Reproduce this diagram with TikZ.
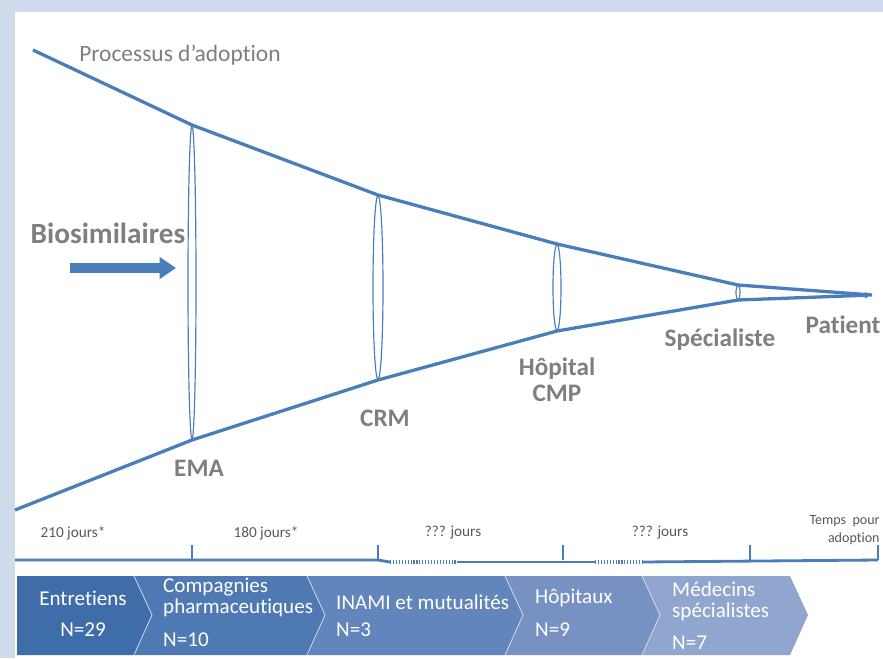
\documentclass[tikz,border=0pt]{standalone}
\usepackage{fontspec}
\setmainfont{Carlito}[Ligatures = NoCommon]
\usetikzlibrary{calc,arrows.meta}

\definecolor{funnelblue}{HTML}{4A7EBB}
\definecolor{framegray}{HTML}{CFDBEA}
\definecolor{labelgray}{HTML}{7F7F7F}
\definecolor{spangray}{HTML}{595959}
\definecolor{chevA}{HTML}{3F6DAA}
\definecolor{chevB}{HTML}{4E79B3}
\definecolor{chevC}{HTML}{6285BB}
\definecolor{chevD}{HTML}{7891C3}
\definecolor{chevE}{HTML}{91A6CE}

\tikzset{
	funnel/.style = {funnelblue, line width = 2.8pt},
	lens/.style = {funnelblue, line width = 1pt},
	stage/.style = {text = labelgray, font = \fontsize{21.5}{22}\selectfont\bfseries, align = center},
	span/.style = {text = spangray, font = \fontsize{13}{14}\selectfont, align = right},
	chevtext/.style = {text = white, font = \fontsize{18}{18}\selectfont, align = left, inner sep = 0pt},
	chevedge/.style = {draw = white!80!chevA, line width = 0.6pt},
}

\begin{document}
\begin{tikzpicture}[x = 0.03cm, y = -0.03cm]
				%	frame
				\fill[framegray] (0, 0) rectangle (883, 658);
				\fill[white] (15, 12) rectangle (883, 658);
				\useasboundingbox (0, 0) rectangle (883, 658);
				
				%	funnel points
				\coordinate (t0) at (33, 50);
				\coordinate (t1) at (192, 125);
				\coordinate (t2) at (378, 195);
				\coordinate (t3) at (557, 244);
				\coordinate (t4) at (738, 285);
				\coordinate (b0) at (15, 510);
				\coordinate (b1) at (192, 440);
				\coordinate (b2) at (378, 380);
				\coordinate (b3) at (557, 331);
				\coordinate (b4) at (738, 300);
				\coordinate (tip) at (872, 295);
				
				%	lenses
				\draw[lens] ($(t1)!0.5!(b1)$) ellipse (4 and 157);
				\draw[lens] ($(t2)!0.5!(b2)$) ellipse (5 and 92);
				\draw[lens] ($(t3)!0.5!(b3)$) ellipse (4 and 43);
				\draw[lens] ($(t4)!0.5!(b4)$) ellipse (2 and 7);
				
				%	funnel
				\draw[funnel] (t0) -- (t1) -- (t2) -- (t3) -- (t4) -- (tip);
				\draw[funnel, -{Latex[length = 6pt, width = 6pt]}] (b0) -- (b1) -- (b2) -- (b3) -- (b4) -- (tip);
				
				%	labels
				\node[text = labelgray, font = \fontsize{20}{22}\selectfont] (proc) at (180, 55) {Processus d’adoption};
				\node[text = labelgray, font = \fontsize{25}{27}\selectfont\bfseries] (bio) at (108, 233) {Biosimilaires};
				\coordinate (in0) at (70, 268);
				\coordinate (in1) at (176, 268);
				\draw[funnelblue, line width = 8.5pt, -{Triangle[length = 14pt, width = 18pt]}] (in0) -- (in1);
				
				\node[stage] (ema) at (199, 468) {EMA};
				\node[stage] (crm) at (385, 418) {CRM};
				\node[stage, text depth = 0pt] (hop) at (557, 380) {Hôpital\\CMP};
				\node[stage] (spec) at (720, 340) {Spécialiste};
				\node[stage] (pat) at (843, 325) {Patient};
				
				%	time line
				\coordinate (s0) at (15, 560);
				\coordinate (s1) at (192, 560);
				\coordinate (s2) at (378, 560);
				\coordinate (s3) at (563, 560);
				\coordinate (s4) at (750, 560);
				\coordinate (s5) at (878, 560);
				\coordinate (d1a) at (390, 562);
				\coordinate (d1b) at (457, 562);
				\coordinate (d2a) at (595, 562);
				\coordinate (d2b) at (643, 562);
				\draw[funnelblue, line width = 2.4pt] (s0) -- (s2) -- (d1a);
				\draw[funnelblue, line width = 2.4pt] (d1b) -- (d2a);
				\draw[funnelblue, line width = 2.4pt] (d2b) -- (s5);
				\draw[funnelblue, line width = 3pt, dash pattern = on 1pt off 1.5pt] (d1a) -- (d1b);
				\draw[funnelblue, line width = 3pt, dash pattern = on 1pt off 1.5pt] (d2a) -- (d2b);
				\foreach \s in {s1, s2, s3, s4, s5}
					\draw[funnelblue, line width = 1pt] (\s) -- ++(0, -15);
				
				\node[span] (j1) at (73, 533) {210 jours*};
				\node[span] (j2) at (266, 533) {180 jours*};
				\node[span] (j3) at (453, 533) {??? jours};
				\node[span] (j4) at (660, 533) {??? jours};
				\node[span, anchor = east, inner sep = 1pt, font = \fontsize{12}{16}\selectfont] (j5) at (881, 530) {Temps\ \ pour\\adoption};
				
				%	chevrons
				\fill[chevA] (17, 576) -- (134, 576) -- (152, 615) -- (134, 655) -- (17, 655) -- cycle;
				\fill[chevB] (134, 576) -- (307, 576) -- (325, 615) -- (307, 655) -- (134, 655) -- (152, 615) -- cycle;
				\fill[chevC] (307, 576) -- (505, 576) -- (523, 615) -- (505, 655) -- (307, 655) -- (325, 615) -- cycle;
				\fill[chevD] (505, 576) -- (642, 576) -- (660, 615) -- (642, 655) -- (505, 655) -- (523, 615) -- cycle;
				\fill[chevE] (642, 576) -- (790, 576) -- (808, 615) -- (790, 655) -- (642, 655) -- (660, 615) -- cycle;
				\draw[chevedge] (134, 576) -- (152, 615) -- (134, 655);
				\draw[chevedge] (307, 576) -- (325, 615) -- (307, 655);
				\draw[chevedge] (505, 576) -- (523, 615) -- (505, 655);
				\draw[chevedge] (642, 576) -- (660, 615) -- (642, 655);
				
				\node[chevtext, align = center] (e1) at (83, 598) {Entretiens};
				\node[chevtext] (n1) at (83, 630) {N=29};
				\node[chevtext, anchor = west] (e2) at (163, 597) {Compagnies\\pharmaceutiques};
				\node[chevtext, anchor = west] (n2) at (163, 640) {N=10};
				\node[chevtext, anchor = west] (e3) at (336, 602) {INAMI et mutualités};
				\node[chevtext, anchor = west] (n3) at (336, 630) {N=3};
				\node[chevtext, anchor = west] (e4) at (535, 598) {Hôpitaux};
				\node[chevtext, anchor = west] (n4) at (535, 630) {N=9};
				\node[chevtext, anchor = west] (e5) at (672, 601) {Médecins\\spécialistes};
				\node[chevtext, anchor = west] (n5) at (672, 643) {N=7};
\end{tikzpicture}
\end{document}
